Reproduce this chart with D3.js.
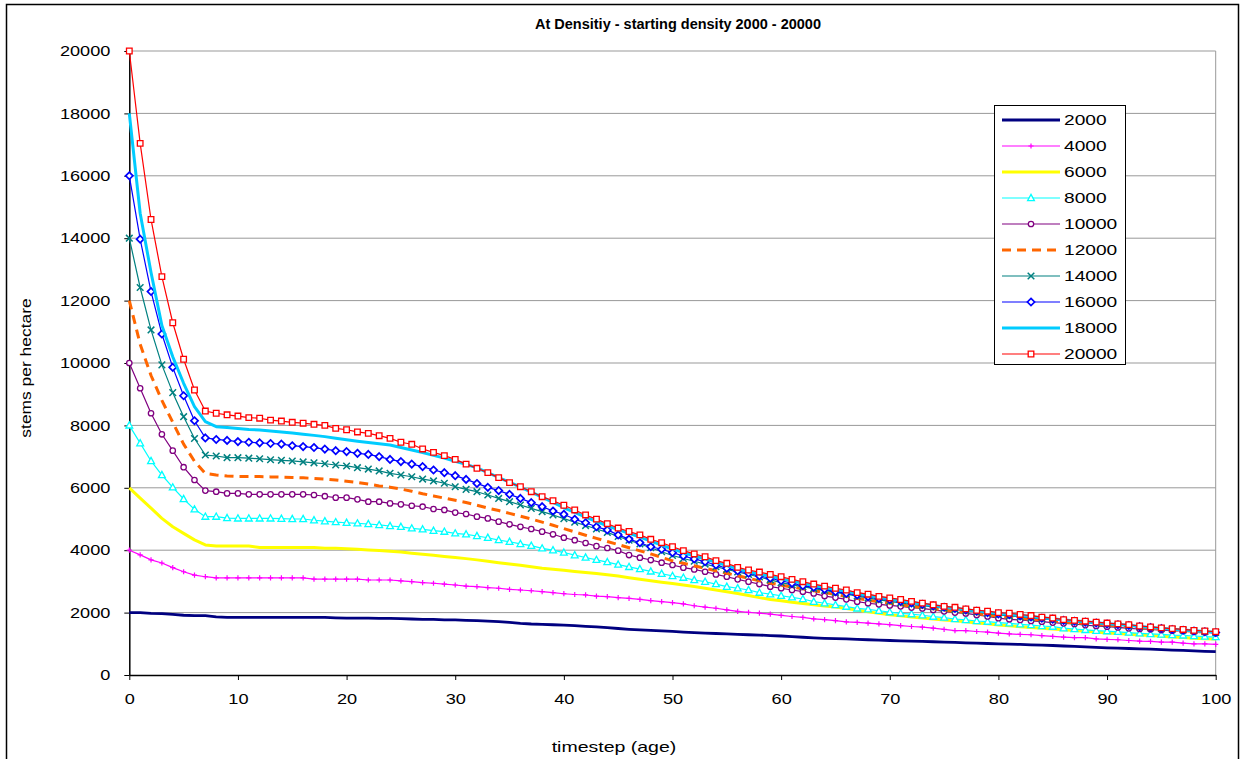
<!DOCTYPE html>
<html><head><meta charset="utf-8">
<script src="https://cdn.jsdelivr.net/npm/d3@7"></script>
<style>
html,body{margin:0;padding:0;background:#fff;}
svg{display:block;font-family:"Liberation Sans",Arial,sans-serif;}
</style></head><body>
<svg id="chart" width="1245" height="759"></svg>
<script>
// ---------------- DATA ----------------
const chartTitle = "At Densitiy - starting density 2000 - 20000";
const xTitle = "timestep (age)";
const yTitle = "stems per hectare";
const timesteps = d3.range(0, 101);
const xTickValues = [0,10,20,30,40,50,60,70,80,90,100];
const yTickValues = [0,2000,4000,6000,8000,10000,12000,14000,16000,18000,20000];
const seriesNames = ["2000","4000","6000","8000","10000","12000","14000","16000","18000","20000"];

const s2000 = [2000,2000,1975,1965,1940,1915,1905,1900,1860,1850,
 1850,1850,1850,1850,1850,1850,1850,1850,1845,1830,
 1820,1820,1820,1815,1815,1805,1795,1785,1780,1770,
 1765,1750,1740,1725,1710,1685,1655,1635,1625,1610,
 1600,1580,1560,1545,1520,1490,1465,1445,1430,1415,
 1395,1375,1360,1345,1330,1315,1305,1290,1280,1265,
 1250,1230,1210,1190,1175,1165,1155,1145,1130,1115,
 1105,1095,1085,1075,1065,1055,1045,1030,1020,1010,
 1000,990,980,965,955,945,930,915,900,885,
 870,860,850,840,830,815,800,790,775,760,
 750];
const s4000 = [4000,3850,3690,3590,3440,3310,3200,3150,3110,3110,
 3110,3110,3110,3110,3110,3110,3110,3075,3075,3075,
 3075,3075,3045,3045,3045,3015,2990,2960,2940,2915,
 2885,2850,2830,2800,2780,2745,2725,2700,2670,2640,
 2605,2580,2565,2530,2510,2480,2455,2425,2385,2350,
 2320,2280,2220,2175,2140,2090,2040,2010,1980,1950,
 1910,1875,1845,1800,1775,1740,1705,1685,1665,1640,
 1615,1585,1555,1535,1505,1460,1425,1425,1395,1375,
 1345,1320,1300,1290,1265,1235,1215,1195,1195,1160,
 1140,1130,1105,1085,1075,1055,1055,1020,1000,1000,
 980];
const s6000 = [6000,5670,5350,5020,4750,4540,4330,4170,4135,4135,
 4135,4135,4090,4090,4090,4090,4090,4090,4060,4060,
 4050,4030,4010,3990,3965,3940,3905,3870,3835,3800,
 3765,3730,3690,3645,3600,3560,3515,3470,3420,3390,
 3360,3320,3285,3250,3210,3170,3120,3070,3020,2975,
 2930,2885,2835,2780,2725,2670,2610,2550,2480,2420,
 2380,2330,2290,2250,2210,2180,2130,2080,2030,1975,
 1930,1895,1860,1830,1795,1765,1735,1705,1670,1640,
 1605,1580,1550,1525,1500,1475,1450,1425,1400,1375,
 1350,1330,1305,1285,1265,1240,1220,1200,1180,1165,
 1150];
const s8000 = [8000,7430,6860,6410,6015,5640,5310,5075,5075,5030,
 5020,5020,5020,5020,5010,5000,5000,4960,4930,4900,
 4880,4860,4840,4810,4775,4750,4700,4670,4625,4595,
 4540,4510,4455,4400,4325,4270,4200,4145,4060,4000,
 3925,3840,3765,3690,3620,3540,3465,3395,3320,3245,
 3175,3120,3045,2990,2915,2830,2780,2725,2640,2590,
 2540,2490,2435,2350,2300,2245,2190,2135,2105,2060,
 2015,1975,1950,1915,1870,1840,1795,1765,1730,1710,
 1680,1655,1625,1600,1570,1550,1500,1475,1445,1420,
 1405,1385,1360,1335,1315,1300,1280,1270,1250,1230,
 1215];
const s10000 = [10000,9190,8390,7715,7190,6660,6250,5910,5875,5820,
 5820,5790,5790,5790,5790,5790,5790,5770,5730,5685,
 5685,5630,5555,5555,5500,5470,5425,5395,5320,5290,
 5205,5160,5075,5020,4915,4830,4750,4680,4595,4510,
 4400,4320,4230,4130,4070,3985,3845,3760,3685,3600,
 3525,3440,3385,3310,3225,3150,3065,2990,2915,2830,
 2780,2725,2670,2615,2530,2480,2425,2350,2300,2265,
 2230,2200,2160,2135,2085,2040,2000,1975,1925,1875,
 1820,1785,1765,1730,1710,1680,1655,1635,1600,1570,
 1550,1525,1495,1475,1465,1440,1420,1410,1390,1370,
 1340];
const s12000 = [12000,10600,9600,8800,8100,7400,6850,6460,6410,6380,
 6360,6360,6360,6350,6340,6330,6320,6300,6280,6250,
 6210,6170,6120,6060,6020,5960,5890,5810,5740,5670,
 5600,5530,5440,5350,5270,5180,5090,5000,4900,4800,
 4690,4585,4480,4380,4280,4180,4080,3980,3880,3770,
 3660,3580,3500,3420,3340,3260,3180,3100,3020,2950,
 2880,2820,2760,2700,2640,2580,2520,2460,2400,2350,
 2300,2250,2200,2160,2120,2080,2040,2000,1960,1920,
 1880,1850,1820,1790,1760,1730,1700,1675,1650,1625,
 1600,1575,1550,1525,1500,1475,1450,1425,1400,1375,
 1350];
const s14000 = [14000,12420,11060,9940,9050,8280,7580,7050,7020,6965,
 6965,6950,6930,6900,6880,6860,6830,6800,6770,6730,
 6700,6645,6600,6540,6465,6410,6355,6280,6220,6145,
 6035,5950,5875,5770,5660,5555,5450,5340,5235,5130,
 5010,4900,4790,4680,4570,4440,4320,4200,4080,3950,
 3830,3735,3645,3555,3470,3385,3300,3220,3140,3050,
 2960,2890,2830,2770,2710,2650,2590,2530,2470,2410,
 2360,2310,2260,2220,2180,2140,2100,2060,2020,1975,
 1930,1895,1860,1830,1800,1770,1740,1710,1680,1650,
 1620,1595,1570,1545,1515,1490,1465,1440,1415,1390,
 1365];
const s16000 = [16000,13970,12290,10930,9860,8950,8150,7600,7550,7520,
 7480,7460,7440,7420,7400,7350,7320,7290,7240,7190,
 7160,7105,7070,7000,6910,6840,6760,6680,6570,6485,
 6390,6270,6140,6015,5910,5790,5660,5525,5395,5255,
 5150,4990,4880,4750,4650,4490,4355,4240,4110,4030,
 3920,3815,3720,3630,3525,3420,3335,3260,3175,3100,
 3020,2940,2860,2810,2745,2670,2615,2565,2510,2455,
 2410,2360,2310,2265,2215,2170,2130,2085,2045,2000,
 1955,1930,1895,1860,1820,1790,1750,1725,1695,1665,
 1635,1610,1585,1550,1520,1490,1460,1435,1410,1385,
 1360];
const s18000 = [18000,14800,12900,11200,10200,9350,8600,8120,7960,7930,
 7900,7870,7850,7820,7790,7760,7720,7680,7640,7590,
 7540,7495,7450,7410,7370,7290,7210,7130,7040,6950,
 6850,6750,6640,6490,6330,6180,6020,5860,5700,5530,
 5360,5210,5060,4920,4780,4660,4540,4420,4290,4160,
 4040,3920,3820,3720,3610,3510,3400,3310,3240,3165,
 3090,3010,2940,2870,2800,2740,2680,2610,2550,2490,
 2440,2390,2335,2280,2230,2180,2140,2095,2050,2015,
 1975,1950,1910,1875,1835,1800,1760,1735,1705,1675,
 1645,1620,1595,1555,1525,1495,1470,1445,1420,1395,
 1370];
const s20000 = [20000,17040,14600,12770,11290,10120,9135,8460,8390,8340,
 8300,8250,8230,8170,8140,8100,8070,8035,8000,7905,
 7860,7790,7745,7670,7585,7460,7395,7245,7135,7030,
 6910,6760,6625,6485,6325,6165,6035,5875,5715,5585,
 5440,5290,5130,4995,4850,4710,4600,4490,4350,4240,
 4110,3985,3880,3790,3665,3580,3450,3365,3300,3225,
 3150,3065,2990,2915,2850,2780,2725,2640,2590,2520,
 2470,2420,2360,2305,2250,2200,2170,2120,2075,2045,
 2000,1980,1940,1905,1855,1825,1775,1750,1725,1695,
 1665,1640,1615,1570,1540,1510,1485,1460,1430,1410,
 1390];

const seriesValues = [s2000,s4000,s6000,s8000,s10000,s12000,s14000,s16000,s18000,s20000];

// ---------------- STYLES ----------------
const styles = [
  {color:"#000080", width:2.8, marker:null},
  {color:"#FF00FF", width:1.2, marker:"plus"},
  {color:"#FFFF00", width:3, marker:null},
  {color:"#00FFFF", width:1.2, marker:"triangle"},
  {color:"#800080", width:1.2, marker:"circle"},
  {color:"#FF6600", width:3, marker:null, dash:"9,6"},
  {color:"#008080", width:1.2, marker:"x"},
  {color:"#0000FF", width:1.2, marker:"diamond"},
  {color:"#00CCFF", width:3, marker:null},
  {color:"#FF0000", width:1.2, marker:"square"}
];

function markerPath(type){
  switch(type){
    case "square": return "M-2.8,-2.8h5.6v5.6h-5.6z";
    case "diamond": return "M0,-3.6L3.6,0L0,3.6L-3.6,0z";
    case "triangle": return "M0,-3.6L3.4,2.6L-3.4,2.6z";
    case "circle": return "M2.7,0A2.7,2.7 0 1,1 -2.7,0A2.7,2.7 0 1,1 2.7,0z";
    case "plus": return "M-2.6,0h5.2M0,-2.6v5.2";
    case "x": return "M-3.3,-3.3L3.3,3.3M-3.3,3.3L3.3,-3.3";
  }
  return "";
}
const filledMarkers = {square:true, diamond:true, triangle:true, circle:true};
const markerStroke = {square:1.3, diamond:1.7, triangle:1.3, circle:1.3, plus:1.2, x:1.5};

// ---------------- LAYOUT ----------------
const svg = d3.select("#chart");
const x = d3.scaleLinear().domain([0,100]).range([129.3,1215.7]);
const y = d3.scaleLinear().domain([0,20000]).range([675,51]);

function stretch(sel, k){
  sel.each(function(){
    const l = this.getComputedTextLength();
    this.setAttribute("textLength", (l*k).toFixed(1));
    this.setAttribute("lengthAdjust","spacingAndGlyphs");
  });
}

// outer border
svg.append("rect").attr("x",6.5).attr("y",4.5).attr("width",1232).attr("height",800)
  .attr("fill","#fff").attr("stroke","#000").attr("stroke-width",1.5);

// title
const t = svg.append("text").attr("x",678).attr("y",29).attr("text-anchor","middle")
  .attr("font-size",14).attr("font-weight","bold").text(chartTitle);
t.attr("textLength",286).attr("lengthAdjust","spacingAndGlyphs");

// gridlines
svg.append("g").selectAll("line").data(yTickValues.filter(d=>d>0)).join("line")
  .attr("x1",x(0)).attr("x2",x(100)).attr("y1",d=>y(d)).attr("y2",d=>y(d))
  .attr("stroke","#999").attr("stroke-width",1);
svg.append("line").attr("x1",x(100)).attr("x2",x(100)).attr("y1",y(20000)).attr("y2",y(0))
  .attr("stroke","#999").attr("stroke-width",1);

// axes
const yAxis = svg.append("g").attr("transform",`translate(${x(0)},0)`)
  .call(d3.axisLeft(y).tickValues(yTickValues).tickSize(5).tickSizeOuter(0).tickPadding(14).tickFormat(d3.format("d")));
const xAxis = svg.append("g").attr("transform",`translate(0,${y(0)})`)
  .call(d3.axisBottom(x).tickValues(xTickValues).tickSize(5).tickSizeOuter(0).tickPadding(14).tickFormat(d3.format("d")));
[yAxis,xAxis].forEach(a=>{
  a.select(".domain").attr("stroke","#000").attr("stroke-width",1.5);
  a.selectAll(".tick line").attr("stroke","#000").attr("stroke-width",1);
  a.selectAll("text").attr("font-size",14.5).attr("fill","#000").attr("font-family","Liberation Sans, Arial, sans-serif");
});
stretch(yAxis.selectAll("text"),1.25);
stretch(xAxis.selectAll("text"),1.25);

// axis titles
const xt = svg.append("text").attr("x",614).attr("y",752).attr("text-anchor","middle")
  .attr("font-size",15).text(xTitle);
stretch(xt,1.3);
const yt = svg.append("text").attr("transform","translate(31,368) rotate(-90)")
  .attr("text-anchor","middle").attr("font-size",14.5).text(yTitle);
stretch(yt,1.2);

// series
const line = d3.line().x((d,i)=>x(timesteps[i])).y(d=>y(d));
const plot = svg.append("g");
seriesValues.forEach((vals,si)=>{
  const st = styles[si];
  const g = plot.append("g");
  g.append("path").attr("d",line(vals)).attr("fill","none")
    .attr("stroke",st.color).attr("stroke-width",st.width)
    .attr("stroke-dasharray",st.dash||null).attr("stroke-linejoin","round");
  if(st.marker){
    g.selectAll("path.m").data(vals).join("path").attr("class","m")
      .attr("transform",(d,i)=>`translate(${x(timesteps[i])},${y(d)})`)
      .attr("d",markerPath(st.marker))
      .attr("fill",filledMarkers[st.marker]?"#fff":"none")
      .attr("stroke",st.color).attr("stroke-width",markerStroke[st.marker]);
  }
});

// legend
const lg = svg.append("g");
lg.append("rect").attr("x",994.5).attr("y",105.5).attr("width",131).attr("height",259)
  .attr("fill","#fff").attr("stroke","#000").attr("stroke-width",1);
seriesNames.forEach((name,i)=>{
  const st = styles[i];
  const cy = 120 + i*26;
  lg.append("line").attr("x1",1002).attr("x2",1060).attr("y1",cy).attr("y2",cy)
    .attr("stroke",st.color).attr("stroke-width",st.width).attr("stroke-dasharray",st.dash||null);
  if(st.marker){
    lg.append("path").attr("transform",`translate(1031,${cy})`).attr("d",markerPath(st.marker))
      .attr("fill",filledMarkers[st.marker]?"#fff":"none")
      .attr("stroke",st.color).attr("stroke-width",markerStroke[st.marker]);
  }
  const tx = lg.append("text").attr("x",1064).attr("y",cy+5).attr("font-size",14.5).text(name);
  stretch(tx,1.32);
});
</script>
</body></html>
